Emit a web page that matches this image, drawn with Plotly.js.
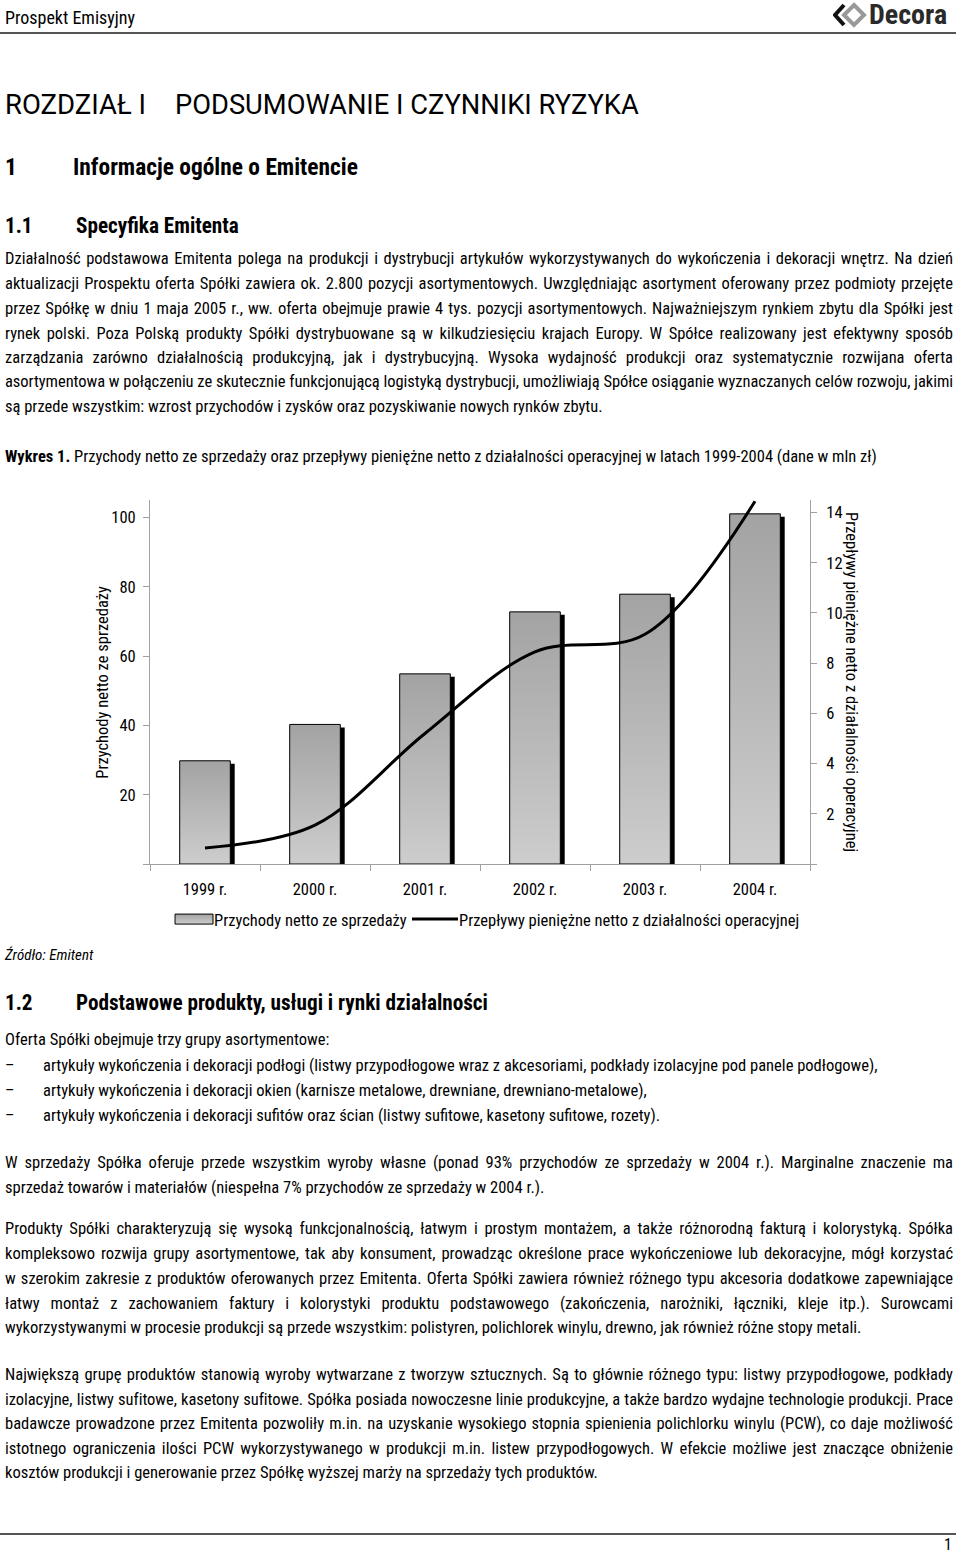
<!DOCTYPE html>
<html>
<head>
<meta charset="utf-8">
<script src="https://cdn.plot.ly/plotly-3.0.1.min.js"></script>
<style>
  html, body { margin:0; padding:0; background:#fff; }
  body { width:960px; height:1554px; position:relative; overflow:hidden;
         font-family:"Roboto Condensed","Liberation Sans Narrow",sans-serif; color:#000; }
  .ab { position:absolute; white-space:nowrap; }
  .ln { position:absolute; left:5px; width:948px; height:24px; line-height:24px; font-size:16.5px; white-space:nowrap; }
  .j { text-align:justify; text-align-last:justify; }
  .h1 { font-weight:bold; font-size:23.4px; line-height:28px; height:28px; }
  .h2 { font-weight:bold; font-size:21.2px; line-height:28px; height:28px; }
  #chart { position:absolute; left:0; top:490px; width:960px; height:450px; }
</style>
</head>
<body>
<div class="ab" style="left:5px;top:8px;font-size:18px;line-height:20px;">Prospekt Emisyjny</div>
<div class="ab" style="left:833px;top:1px;height:28px;width:125px;">
  <svg width="34" height="26" viewBox="0 0 34 26" style="position:absolute;left:0;top:1px;">
    <polyline points="11,3 2,13 11,23" fill="none" stroke="#111" stroke-width="4"/>
    <polygon points="21,3 31,13 21,23 11,13" fill="none" stroke="#999" stroke-width="4"/>
  </svg>
  <span style="position:absolute;left:36px;top:-1px;font-weight:bold;font-size:28px;line-height:30px;color:#2a2a2a;">Decora</span>
</div>
<div class="ab" style="left:0;top:32px;width:956px;height:2px;background:#555;"></div>

<div class="ab" style="left:5px;top:89px;font-size:27.5px;line-height:32px;font-family:Roboto,sans-serif;">ROZDZIAŁ I</div>
<div class="ab" style="left:175px;top:89px;font-size:27.3px;line-height:32px;font-family:Roboto,sans-serif;">PODSUMOWANIE I CZYNNIKI RYZYKA</div>

<div class="ab h1" style="left:5px;top:153px;">1</div>
<div class="ab h1" style="left:73px;top:153px;">Informacje ogólne o Emitencie</div>
<div class="ab h2" style="left:5px;top:212px;">1.1</div>
<div class="ab h2" style="left:76px;top:212px;">Specyfika Emitenta</div>

<div class="ln j" style="top:247px;">Działalność podstawowa Emitenta polega na produkcji i dystrybucji artykułów wykorzystywanych do wykończenia i dekoracji wnętrz. Na dzień</div>
<div class="ln j" style="top:272px;">aktualizacji Prospektu oferta Spółki zawiera ok. 2.800 pozycji asortymentowych. Uwzględniając asortyment oferowany przez podmioty przejęte</div>
<div class="ln j" style="top:297px;">przez Spółkę w dniu 1 maja 2005 r., ww. oferta obejmuje prawie 4 tys. pozycji asortymentowych. Najważniejszym rynkiem zbytu dla Spółki jest</div>
<div class="ln j" style="top:322px;">rynek polski. Poza Polską produkty Spółki dystrybuowane są w kilkudziesięciu krajach Europy. W Spółce realizowany jest efektywny sposób</div>
<div class="ln j" style="top:346px;">zarządzania zarówno działalnością produkcyjną, jak i dystrybucyjną. Wysoka wydajność produkcji oraz systematycznie rozwijana oferta</div>
<div class="ln j" style="top:370px;letter-spacing:-0.05px;">asortymentowa w połączeniu ze skutecznie funkcjonującą logistyką dystrybucji, umożliwiają Spółce osiąganie wyznaczanych celów rozwoju, jakimi</div>
<div class="ln" style="top:395px;">są przede wszystkim: wzrost przychodów i zysków oraz pozyskiwanie nowych rynków zbytu.</div>

<div class="ln" style="top:445px;"><b>Wykres 1.</b> Przychody netto ze sprzedaży oraz przepływy pieniężne netto z działalności operacyjnej w latach 1999-2004 (dane w mln zł)</div>

<div id="chart"></div>

<div class="ln" style="top:943px;font-style:italic;font-size:15px;">Źródło: Emitent</div>

<div class="ab h2" style="left:5px;top:989px;">1.2</div>
<div class="ab h2" style="left:76px;top:989px;">Podstawowe produkty, usługi i rynki działalności</div>

<div class="ln" style="top:1028px;">Oferta Spółki obejmuje trzy grupy asortymentowe:</div>
<div class="ln" style="top:1054px;">–</div>
<div class="ln" style="top:1054px;left:43px;width:910px;">artykuły wykończenia i dekoracji podłogi (listwy przypodłogowe wraz z akcesoriami, podkłady izolacyjne pod panele podłogowe),</div>
<div class="ln" style="top:1079px;">–</div>
<div class="ln" style="top:1079px;left:43px;width:910px;">artykuły wykończenia i dekoracji okien (karnisze metalowe, drewniane, drewniano-metalowe),</div>
<div class="ln" style="top:1104px;">–</div>
<div class="ln" style="top:1104px;left:43px;width:910px;">artykuły wykończenia i dekoracji sufitów oraz ścian (listwy sufitowe, kasetony sufitowe, rozety).</div>

<div class="ln j" style="top:1151px;">W sprzedaży Spółka oferuje przede wszystkim wyroby własne (ponad 93% przychodów ze sprzedaży w 2004 r.). Marginalne znaczenie ma</div>
<div class="ln" style="top:1176px;">sprzedaż towarów i materiałów (niespełna 7% przychodów ze sprzedaży w 2004 r.).</div>

<div class="ln j" style="top:1217px;">Produkty Spółki charakteryzują się wysoką funkcjonalnością, łatwym i prostym montażem, a także różnorodną fakturą i kolorystyką. Spółka</div>
<div class="ln j" style="top:1242px;">kompleksowo rozwija grupy asortymentowe, tak aby konsument, prowadząc określone prace wykończeniowe lub dekoracyjne, mógł korzystać</div>
<div class="ln j" style="top:1267px;">w szerokim zakresie z produktów oferowanych przez Emitenta. Oferta Spółki zawiera również różnego typu akcesoria dodatkowe zapewniające</div>
<div class="ln j" style="top:1292px;">łatwy montaż z zachowaniem faktury i kolorystyki produktu podstawowego (zakończenia, narożniki, łączniki, kleje itp.). Surowcami</div>
<div class="ln" style="top:1316px;">wykorzystywanymi w procesie produkcji są przede wszystkim: polistyren, polichlorek winylu, drewno, jak również różne stopy metali.</div>

<div class="ln j" style="top:1363px;">Największą grupę produktów stanowią wyroby wytwarzane z tworzyw sztucznych. Są to głównie różnego typu: listwy przypodłogowe, podkłady</div>
<div class="ln j" style="top:1388px;letter-spacing:-0.05px;">izolacyjne, listwy sufitowe, kasetony sufitowe. Spółka posiada nowoczesne linie produkcyjne, a także bardzo wydajne technologie produkcji. Prace</div>
<div class="ln j" style="top:1412px;">badawcze prowadzone przez Emitenta pozwoliły m.in. na uzyskanie wysokiego stopnia spienienia polichlorku winylu (PCW), co daje możliwość</div>
<div class="ln j" style="top:1437px;">istotnego ograniczenia ilości PCW wykorzystywanego w produkcji m.in. listew przypodłogowych. W efekcie możliwe jest znaczące obniżenie</div>
<div class="ln" style="top:1461px;">kosztów produkcji i generowanie przez Spółkę wyższej marży na sprzedaży tych produktów.</div>

<div class="ab" style="left:0;top:1533px;width:956px;height:2px;background:#555;"></div>
<div class="ab" style="left:944px;top:1536px;font-size:16px;line-height:18px;">1</div>

<script>
// ---- data ----
const years = ["1999 r.", "2000 r.", "2001 r.", "2002 r.", "2003 r.", "2004 r."];
const revenue = [29.8, 40.3, 54.9, 72.8, 77.9, 101.1];          // Przychody netto ze sprzedaży (mln zł)
const cashflow = [0.64, 1.55, 5.2, 8.45, 9.15, 14.45];         // Przepływy pieniężne netto z działalności operacyjnej (mln zł)
const leftTicks = [0, 20, 40, 60, 80, 100];
const rightTicks = [0, 2, 4, 6, 8, 10, 12, 14];
const revenueName = "Przychody netto ze sprzedaży";
const cashName = "Przepływy pieniężne netto z działalności operacyjnej";

const FONT = "'Roboto Condensed','Liberation Sans Narrow',sans-serif";
const FS = 16.5;
const leftMax = 105.1, rightMax = 14.5;
const pxPerUnitLeft = 364 / leftMax;

const shadow = {
  type: "bar", x: years, y: revenue.map(v => v - 3 / pxPerUnitLeft),
  width: 0.46, offset: -0.23 + 0.04,
  marker: { color: "#000", line: { width: 0 } },
  showlegend: false, hoverinfo: "skip"
};
const bars = {
  type: "bar", x: years, y: revenue, name: revenueName,
  width: 0.46, offset: -0.23, legendwidth: 200,
  marker: { color: "#b8b8b8", line: { color: "#000", width: 1 } }
};
const line = {
  type: "scatter", mode: "lines", x: years, y: cashflow, name: cashName, yaxis: "y2",
  line: { color: "#000", width: 3, shape: "spline", smoothing: 1 }
};

const axisCommon = { showline: true, linecolor: "#a0a0a0", linewidth: 1, ticks: "outside", ticklen: 6,
                     tickcolor: "#a0a0a0", showgrid: false, zeroline: false,
                     tickfont: { family: FONT, size: FS, color: "#000" } };

const layout = {
  width: 960, height: 450,
  margin: { l: 150, r: 150, t: 10, b: 76, autoexpand: false },
  paper_bgcolor: "#fff", plot_bgcolor: "rgba(0,0,0,0)",
  font: { family: FONT, size: FS, color: "#000" },
  barmode: "overlay",
  showlegend: true,
  legend: { orientation: "h", x: 0.0364, xanchor: "left", y: -0.104, yanchor: "top",
            font: { family: FONT, size: FS, color: "#000" }, itemwidth: 30 },
  xaxis: Object.assign({}, axisCommon, { type: "category", tickson: "boundaries", ticklabelstandoff: 10 }),
  yaxis: Object.assign({}, axisCommon, { range: [0, leftMax], tickvals: leftTicks,
           ticktext: leftTicks.map(v => v === 0 ? "" : String(v)), ticklabelstandoff: 4 }),
  yaxis2: Object.assign({}, axisCommon, { range: [0, rightMax], overlaying: "y", side: "right",
           tickvals: rightTicks, ticktext: rightTicks.map(v => v === 0 ? "" : String(v)), ticklabelstandoff: 6 }),
  annotations: [
    { text: revenueName, xref: "paper", yref: "paper", x: -0.0732, y: 0.5, textangle: -90,
      xanchor: "center", yanchor: "middle", showarrow: false, font: { family: FONT, size: FS } },
    { text: cashName, xref: "paper", yref: "paper", x: 1.0636, y: 0.5, textangle: 90,
      xanchor: "center", yanchor: "middle", showarrow: false, font: { family: FONT, size: FS } }
  ]
};

function restyleSvg(gd) {
  const svg = gd.querySelector(".main-svg");
  const ns = "http://www.w3.org/2000/svg";
  if (!document.getElementById("barGrad")) {
    let defs = svg.querySelector("defs");
    if (!defs) { defs = document.createElementNS(ns, "defs"); svg.insertBefore(defs, svg.firstChild); }
    const grad = document.createElementNS(ns, "linearGradient");
    grad.setAttribute("id", "barGrad");
    grad.setAttribute("x1", "0"); grad.setAttribute("y1", "0");
    grad.setAttribute("x2", "0"); grad.setAttribute("y2", "1");
    [["0", "#a3a3a3"], ["1", "#cdcdcd"]].forEach(([o, c]) => {
      const s = document.createElementNS(ns, "stop");
      s.setAttribute("offset", o); s.setAttribute("stop-color", c); grad.appendChild(s);
    });
    defs.appendChild(grad);
  }
  const traces = gd.querySelectorAll(".barlayer .trace");
  if (traces[1]) traces[1].querySelectorAll("path").forEach(p => p.style.fill = "url(#barGrad)");
  // legend symbols shaped like the original: wide rectangle and a longer line
  gd.querySelectorAll(".legend .legendpoints path").forEach(p => {
    if (p.classList.contains("js-line")) { p.setAttribute("d", "M-7,0h46"); return; }
    p.setAttribute("d", "M-19,-5H19V5H-19Z");
    p.style.fill = "url(#barGrad)"; p.style.stroke = "#000"; p.style.strokeWidth = "1px";
  });
  gd.querySelectorAll(".legend path.js-line").forEach(p => p.setAttribute("d", "M-7,0h46"));
}

Plotly.newPlot("chart", [shadow, bars, line], layout, { displayModeBar: false, staticPlot: true }).then(gd => {
  restyleSvg(gd);
  gd.on("plotly_afterplot", () => restyleSvg(gd));
  setTimeout(() => restyleSvg(gd), 50);
});
</script>
</body>
</html>
